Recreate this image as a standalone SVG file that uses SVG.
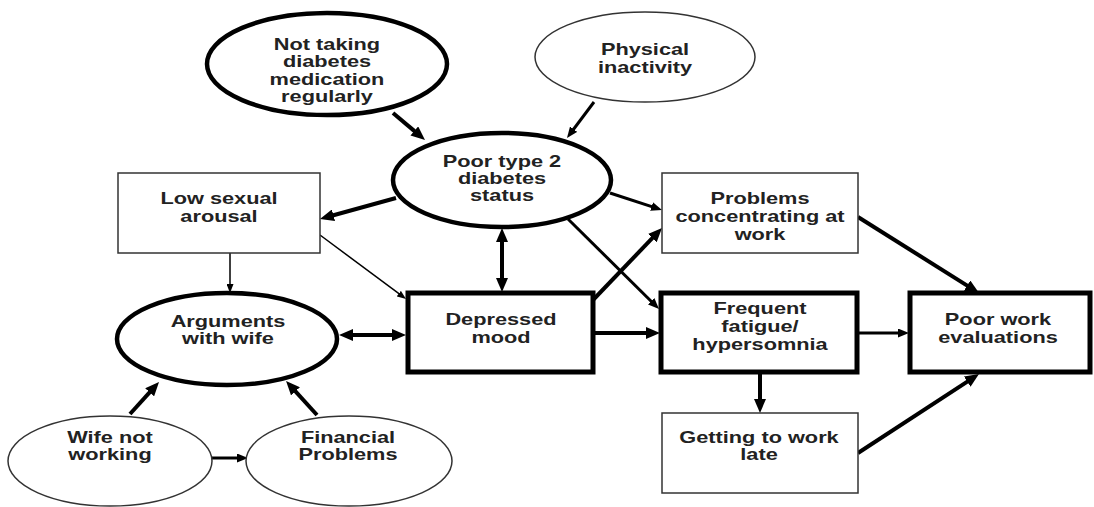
<svg xmlns="http://www.w3.org/2000/svg" width="1094" height="507" viewBox="0 0 1094 507">
<style>
.t{font-family:"Liberation Sans",Arial,sans-serif;font-weight:bold;font-size:16px;fill:#222;text-anchor:middle}
.thin{fill:#fff;stroke:#333;stroke-width:1.5}
.thickE{fill:#fff;stroke:#000;stroke-width:4.5}
.thickB{fill:#fff;stroke:#000;stroke-width:5}
.c4{fill:none;stroke:#000;stroke-width:4;marker-end:url(#ah)}
.c3{fill:none;stroke:#000;stroke-width:3;marker-end:url(#am)}
.c15{fill:none;stroke:#000;stroke-width:1.5;marker-end:url(#as)}
.d4{fill:none;stroke:#000;stroke-width:4;marker-end:url(#ah);marker-start:url(#ah)}
</style>
<defs>
<marker id="ah" markerUnits="userSpaceOnUse" markerWidth="14" markerHeight="12" refX="1" refY="6" orient="auto-start-reverse"><path d="M0,0 L14,6 L0,12 z" fill="#000"/></marker>
<marker id="am" markerUnits="userSpaceOnUse" markerWidth="11" markerHeight="9" refX="1" refY="4.5" orient="auto"><path d="M0,0 L11,4.5 L0,9 z" fill="#000"/></marker>
<marker id="as" markerUnits="userSpaceOnUse" markerWidth="9" markerHeight="7" refX="1" refY="3.5" orient="auto"><path d="M0,0 L9,3.5 L0,7 z" fill="#000"/></marker>
</defs>
<rect width="1094" height="507" fill="#fff"/>

<g id="connectors">
<path class="c4" d="M393,113 L415.1,131.6"/>
<path class="c3" d="M594,102 L573,130"/>
<path class="c4" d="M396,198 L332.5,215.5"/>
<path class="c15" d="M230,253 L230,285"/>
<path class="c15" d="M320,235 L399.6,294.2"/>
<path class="d4" d="M352,335 L393,335"/>
<path class="d4" d="M502,241 L502,279"/>
<path class="c3" d="M610,193 L652.5,206.9"/>
<path class="c3" d="M568,219 L651.9,302"/>
<path class="c4" d="M593,300 L653,237.4"/>
<path class="c4" d="M593,333 L647,333"/>
<path class="c3" d="M858,333 L899,333"/>
<path class="c4" d="M858,217 L968,286.1"/>
<path class="c4" d="M760,373 L760,400"/>
<path class="c4" d="M858,453 L968.1,381.1"/>
<path class="c4" d="M130,414 L150.3,391.6"/>
<path class="c4" d="M317,415 L294.8,390.6"/>
<path class="c3" d="M212,458 L238,458"/>
</g>

<g id="not-taking">
<ellipse class="thickE" cx="327" cy="64" rx="120" ry="51"/>
<text class="t" transform="translate(327,0) scale(1.36,1)"><tspan x="0" y="50">Not taking</tspan><tspan x="0" y="67.5">diabetes</tspan><tspan x="0" y="85">medication</tspan><tspan x="0" y="102.5">regularly</tspan></text>
</g>

<g id="physical-inactivity">
<ellipse class="thin" cx="645" cy="57" rx="110" ry="45"/>
<text class="t" transform="translate(645,0) scale(1.36,1)"><tspan x="0" y="55">Physical</tspan><tspan x="0" y="73">inactivity</tspan></text>
</g>

<g id="poor-type2">
<ellipse class="thickE" cx="502" cy="180" rx="109" ry="47"/>
<text class="t" transform="translate(502,0) scale(1.36,1)"><tspan x="0" y="167">Poor type 2</tspan><tspan x="0" y="184">diabetes</tspan><tspan x="0" y="201">status</tspan></text>
</g>

<g id="low-sexual-arousal">
<rect class="thin" x="118" y="173" width="202" height="80"/>
<text class="t" transform="translate(219,0) scale(1.36,1)"><tspan x="0" y="204">Low sexual</tspan><tspan x="0" y="222">arousal</tspan></text>
</g>

<g id="problems-concentrating">
<rect class="thin" x="662" y="173" width="196" height="80"/>
<text class="t" transform="translate(760,0) scale(1.36,1)"><tspan x="0" y="204">Problems</tspan><tspan x="0" y="222">concentrating at</tspan><tspan x="0" y="240">work</tspan></text>
</g>

<g id="arguments">
<ellipse class="thickE" cx="227" cy="339" rx="110" ry="46"/>
<text class="t" transform="translate(228,0) scale(1.36,1)"><tspan x="0" y="327">Arguments</tspan><tspan x="0" y="344">with wife</tspan></text>
</g>

<g id="depressed-mood">
<rect class="thickB" x="408" y="293" width="185" height="79"/>
<text class="t" transform="translate(501,0) scale(1.36,1)"><tspan x="0" y="325">Depressed</tspan><tspan x="0" y="343">mood</tspan></text>
</g>

<g id="frequent-fatigue">
<rect class="thickB" x="661" y="293" width="196" height="79"/>
<text class="t" transform="translate(760,0) scale(1.36,1)"><tspan x="0" y="314">Frequent</tspan><tspan x="0" y="332">fatigue/</tspan><tspan x="0" y="350">hypersomnia</tspan></text>
</g>

<g id="poor-work-evaluations">
<rect class="thickB" x="910" y="293" width="180" height="79"/>
<text class="t" transform="translate(998,0) scale(1.36,1)"><tspan x="0" y="325">Poor work</tspan><tspan x="0" y="343">evaluations</tspan></text>
</g>

<g id="getting-late">
<rect class="thin" x="662" y="413" width="196" height="80"/>
<text class="t" transform="translate(759,0) scale(1.36,1)"><tspan x="0" y="443">Getting to work</tspan><tspan x="0" y="460">late</tspan></text>
</g>

<g id="wife-not-working">
<ellipse class="thin" cx="110" cy="461" rx="102" ry="45"/>
<text class="t" transform="translate(110,0) scale(1.36,1)"><tspan x="0" y="443">Wife not</tspan><tspan x="0" y="460">working</tspan></text>
</g>

<g id="financial-problems">
<ellipse class="thin" cx="349" cy="461" rx="103" ry="45"/>
<text class="t" transform="translate(348,0) scale(1.36,1)"><tspan x="0" y="443">Financial</tspan><tspan x="0" y="460">Problems</tspan></text>
</g>
</svg>
